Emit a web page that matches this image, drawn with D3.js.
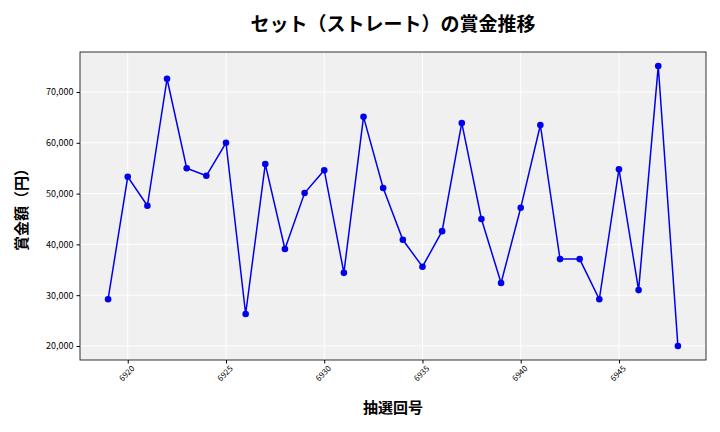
<!DOCTYPE html>
<html>
<head>
<meta charset="utf-8">
<script src="https://cdn.jsdelivr.net/npm/d3@7"></script>
<style>
body { margin:0; background:#fff; }
text { font-family: "Noto Sans CJK JP", "DejaVu Sans", sans-serif; }
</style>
</head>
<body>
<svg width="720" height="432"></svg>
<script>
const draws = d3.range(6919, 6949);
const prizes = [29200, 53300, 47600, 72600, 55000, 53500, 60000, 26300, 55800, 39100,
  50100, 54600, 34400, 65100, 51100, 40900, 35600, 42600, 63900, 45000,
  32400, 47200, 63500, 37100, 37100, 29200, 54800, 31000, 75100, 20000];
const xTicks = [6920, 6925, 6930, 6935, 6940, 6945];
const yTicks = [20000, 30000, 40000, 50000, 60000, 70000];

const svg = d3.select("svg");
const L = 80, R = 706, T = 52, B = 360;

const x = d3.scaleLinear().domain([6917.57, 6949.43]).range([L, R]);
const y = d3.scaleLinear().domain([17240, 77870]).range([B, T]);

svg.append("rect").attr("x", L).attr("y", T).attr("width", R - L).attr("height", B - T)
  .attr("fill", "#f0f0f0");

// grid
svg.append("g").selectAll("line").data(yTicks).join("line")
  .attr("x1", L).attr("x2", R).attr("y1", d => y(d)).attr("y2", d => y(d))
  .attr("stroke", "#fff").attr("stroke-width", 1);
svg.append("g").selectAll("line").data(xTicks).join("line")
  .attr("y1", T).attr("y2", B).attr("x1", d => x(d)).attr("x2", d => x(d))
  .attr("stroke", "#fff").attr("stroke-width", 1);

svg.append("rect").attr("x", L).attr("y", T).attr("width", R - L).attr("height", B - T)
  .attr("fill", "none").attr("stroke", "#000").attr("stroke-width", 0.8);

// axes
const xa = svg.append("g").attr("transform", `translate(0,${B})`)
  .call(d3.axisBottom(x).tickValues(xTicks).tickFormat(d3.format("d")).tickSize(3.5));
xa.select(".domain").remove();
xa.selectAll("text").attr("font-size", 8).attr("text-anchor", "end")
  .attr("transform", "rotate(-45)").attr("dx", "-0.2em").attr("dy", "0.6em");

const ya = svg.append("g").attr("transform", `translate(${L},0)`)
  .call(d3.axisLeft(y).tickValues(yTicks).tickFormat(d3.format(",")).tickSize(3.5));
ya.select(".domain").remove();
ya.selectAll("text").attr("font-size", 9);

// line + points
svg.append("path").datum(draws.map((d, i) => [d, prizes[i]]))
  .attr("fill", "none").attr("stroke", "#0000ee").attr("stroke-width", 1.5)
  .attr("d", d3.line().x(d => x(d[0])).y(d => y(d[1])));
svg.append("g").selectAll("circle").data(draws).join("circle")
  .attr("cx", d => x(d)).attr("cy", (d, i) => y(prizes[i])).attr("r", 3.3)
  .attr("fill", "#0000ee");

// titles
svg.append("text").attr("x", (L + R) / 2 + 0).attr("y", 31).attr("text-anchor", "middle")
  .attr("font-size", 19).attr("font-weight", "bold").text("セット（ストレート）の賞金推移");
svg.append("text").attr("x", (L + R) / 2).attr("y", 413).attr("text-anchor", "middle")
  .attr("font-size", 15).attr("font-weight", "bold").text("抽選回号");
svg.append("text").attr("transform", `translate(27,${(T + B) / 2}) rotate(-90)`)
  .attr("text-anchor", "middle").attr("font-size", 15).attr("font-weight", "bold")
  .text("賞金額（円）");
</script>
</body>
</html>
